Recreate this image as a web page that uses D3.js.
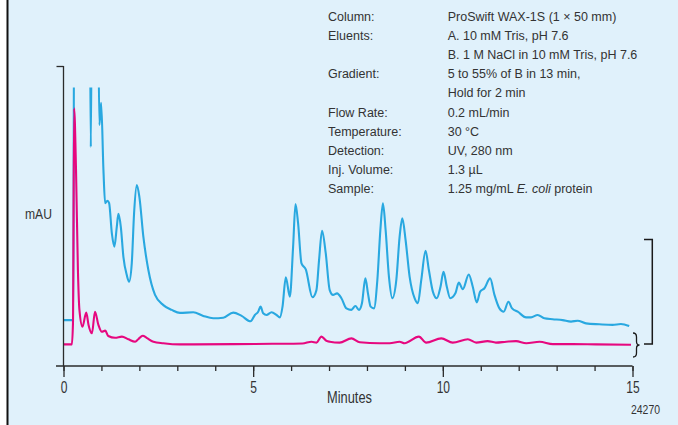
<!DOCTYPE html>
<html>
<head>
<meta charset="utf-8">
<script src="https://cdn.jsdelivr.net/npm/d3@7"></script>
<style>
  html, body { margin: 0; padding: 0; background: #fff; }
  svg { display: block; }
  .cond { font-family: "Liberation Sans", Arial, sans-serif; }
  .info { font-family: "Liberation Sans", Arial, sans-serif; font-size: 12.5px; fill: #333; }
</style>
</head>
<body>
<svg id="chart" width="678" height="425"></svg>
<script>
// Chromatogram traces: [minutes, mAU (arbitrary, offset traces)]
const blueTrace = [
  [0, 15.3], [0.24, 15.3], [0.26, 15.3], [0.28, 130], [0.5, 130], [0.69, 130], [0.72, 73],
  [0.75, 130], [0.9, 130], [0.947, 80.3], [0.992, 87.7], [1.053, 65.3], [1.097, 54.3],
  [1.158, 55.1], [1.203, 54.3], [1.274, 44.3], [1.342, 39.8], [1.405, 46.4], [1.447, 50.7],
  [1.511, 46.4], [1.579, 36.4], [1.668, 30.3], [1.729, 28.1], [1.8, 34.3], [1.861, 51],
  [1.932, 60.3], [2.0, 56.4], [2.105, 43.1], [2.237, 32], [2.413, 23.7], [2.632, 20.3],
  [2.853, 18.7], [3.071, 17.7], [3.421, 17.9], [3.684, 16.7], [3.947, 15.9], [4.211, 16.1],
  [4.474, 17.8], [4.695, 16.7], [4.932, 14.9], [5.045, 17], [5.132, 18.1], [5.195, 19.8],
  [5.263, 17.6], [5.353, 17], [5.484, 17.9], [5.616, 17], [5.703, 16.2], [5.774, 19.8],
  [5.861, 29.6], [5.966, 23.1], [6.053, 39.8], [6.116, 54], [6.184, 47.6], [6.274, 34.2],
  [6.387, 32.2], [6.563, 22.9], [6.668, 25.3], [6.737, 35.3], [6.816, 45.1], [6.913, 37.6],
  [7.018, 25.3], [7.105, 23.7], [7.211, 24.2], [7.326, 22.6], [7.458, 19.2], [7.589, 18.7],
  [7.695, 20], [7.789, 18.7], [7.868, 20.9], [7.958, 29.2], [8.026, 24.2], [8.097, 19.8],
  [8.184, 19.2], [8.274, 28.7], [8.353, 45.3], [8.421, 54.2], [8.492, 45.3], [8.579, 29.8],
  [8.668, 22.6], [8.774, 28.7], [8.861, 43.1], [8.932, 49.2], [9.018, 42], [9.124, 29.8],
  [9.255, 22.6], [9.342, 20.9], [9.432, 28.7], [9.545, 38.4], [9.632, 32], [9.737, 24.8],
  [9.842, 22.6], [9.939, 26.4], [10.018, 31.4], [10.105, 26.4], [10.195, 22.6], [10.334, 24.3],
  [10.421, 27.8], [10.526, 25.6], [10.684, 30.5], [10.789, 26.4], [10.895, 21.2], [10.984, 24.8],
  [11.097, 25.9], [11.247, 29.2], [11.361, 23.7], [11.492, 19.2], [11.605, 18.1], [11.729, 21.4],
  [11.826, 19.2], [11.974, 18.1], [12.195, 16.2], [12.326, 16.2], [12.5, 17], [12.676, 15.9],
  [12.895, 15.6], [13.158, 15.3], [13.379, 14.8], [13.553, 15.1], [13.774, 14.2], [14.124, 13.9],
  [14.474, 13.7], [14.695, 14], [14.913, 13.3]
];

const pinkTrace = [
  [0, 7.2], [0.22, 7.2], [0.25, 14.3], [0.28, 85.9], [0.33, 65.3], [0.38, 32], [0.42, 18.7],
  [0.5, 13.1], [0.6, 17.8], [0.66, 13.7], [0.75, 10.9], [0.83, 18.1], [0.92, 13.7],
  [1.01, 11.4], [1.1, 11.8], [1.18, 10], [1.36, 9.4], [1.54, 9.8], [1.71, 8.9], [1.89, 8.1],
  [1.97, 8.9], [2.09, 10.1], [2.19, 9.4], [2.37, 8.1], [2.63, 7.6], [3.07, 7.2], [4.5, 7.3],
  [5.5, 7.4], [6.3, 7.5], [6.54, 8.1], [6.67, 7.8], [6.8, 9.8], [6.93, 8.4], [7.02, 8.1],
  [7.28, 7.8], [7.59, 9.2], [7.81, 7.9], [8.33, 7.6], [8.6, 7.6], [8.86, 8.1], [8.99, 7.6],
  [9.37, 9.8], [9.56, 7.8], [9.96, 9.2], [10.26, 7.8], [10.66, 8.9], [10.88, 7.8], [11.18, 8.3],
  [11.4, 7.8], [11.67, 8.1], [11.93, 8.3], [12.2, 7.6], [12.55, 8.1], [12.9, 7.3], [13.42, 7.3],
  [14.04, 7.2], [14.96, 7.1]
];

const majorTicks = [0, 5, 10, 15];
const minorTicks = d3.range(0, 16);

const infoLabels = ["Column:", "Eluents:", "", "Gradient:", "", "Flow Rate:", "Temperature:",
  "Detection:", "Inj. Volume:", "Sample:"];
const infoValues = ["ProSwift WAX-1S (1 \u00d7 50 mm)", "A. 10 mM Tris, pH 7.6",
  "B. 1 M NaCl in 10 mM Tris, pH 7.6", "5 to 55% of B in 13 min,", "Hold for 2 min",
  "0.2 mL/min", "30 \u00b0C", "UV, 280 nm", "1.3 \u00b5L", "1.25 mg/mL |E. coli| protein"];

const svg = d3.select('#chart');
const ink = '#2b2b2b';

// squeeze a label to a condensed width (the source uses a narrow face)
function condense(sel, perChar) {
  sel.each(function () {
    const n = this.textContent.length;
    d3.select(this).attr('textLength', n * perChar).attr('lengthAdjust', 'spacingAndGlyphs');
  });
}

// background panel + left rule
svg.append('rect').attr('x', 8).attr('y', 0).attr('width', 670).attr('height', 425).attr('fill', '#e0f1fb');
svg.append('line').attr('x1', 7.5).attr('x2', 7.5).attr('y1', 0).attr('y2', 425)
  .attr('stroke', '#111').attr('stroke-width', 2);

const x = d3.scaleLinear().domain([0, 15]).range([63.5, 632.5]);
const y = d3.scaleLinear().domain([0, 100]).range([366, 66]);

// clip traces at the top of the plotting window
svg.append('clipPath').attr('id', 'plotclip')
  .append('rect').attr('x', 60).attr('y', 87.5).attr('width', 600).attr('height', 300);

const line = d3.line()
  .x((d) => x(d[0]))
  .y((d) => y(d[1]))
  .curve(d3.curveMonotoneX);

const traces = svg.append('g').attr('clip-path', 'url(#plotclip)');
traces.append('path').datum(blueTrace).attr('d', line)
  .attr('fill', 'none').attr('stroke', '#29a8e0').attr('stroke-width', 2.1).attr('stroke-linejoin', 'round');
traces.append('path').datum(pinkTrace).attr('d', line)
  .attr('fill', 'none').attr('stroke', '#e6087f').attr('stroke-width', 2.1).attr('stroke-linejoin', 'round');

// x axis: minor ticks every minute, major every 5
const gx = svg.append('g').attr('transform', `translate(0,${y(0)})`);
gx.append('g').call(d3.axisBottom(x).tickValues(minorTicks).tickSize(5).tickFormat(''))
  .call((g) => g.select('.domain').remove());
gx.append('g').attr('class', 'cond')
  .call(d3.axisBottom(x).tickValues(majorTicks).tickSize(11).tickPadding(4).tickFormat(d3.format('d')))
  .call((g) => g.select('.domain').remove())
  .call((g) => g.selectAll('text').attr('font-size', 17).attr('fill', '#333').call(condense, 6.7));
gx.selectAll('line').attr('stroke', ink).attr('stroke-width', 1.3);
gx.append('line').attr('x1', 56).attr('x2', x(15)).attr('y1', 0).attr('y2', 0)
  .attr('stroke', ink).attr('stroke-width', 1.3);

// y axis: single top tick, no labels
const gy = svg.append('g').attr('transform', `translate(${x(0)},0)`);
gy.call(d3.axisLeft(y).tickValues([100]).tickSize(7).tickFormat(''))
  .call((g) => g.select('.domain').remove());
gy.selectAll('line').attr('stroke', ink).attr('stroke-width', 1.3);
gy.append('line').attr('x1', 0).attr('x2', 0).attr('y1', y(100)).attr('y2', y(0))
  .attr('stroke', ink).attr('stroke-width', 1.3);

// axis titles
svg.append('text').attr('class', 'cond').attr('x', 38.5).attr('y', 219)
  .attr('text-anchor', 'middle').attr('font-size', 15).attr('fill', '#333').text('mAU')
  .attr('textLength', 27).attr('lengthAdjust', 'spacingAndGlyphs');
svg.append('text').attr('class', 'cond').attr('x', 349.5).attr('y', 403)
  .attr('text-anchor', 'middle').attr('font-size', 16).attr('fill', '#333').text('Minutes')
  .attr('textLength', 45).attr('lengthAdjust', 'spacingAndGlyphs');
svg.append('text').attr('class', 'cond').attr('x', 645.5).attr('y', 414)
  .attr('text-anchor', 'middle').attr('font-size', 13).attr('fill', '#333').text('24270')
  .attr('textLength', 29).attr('lengthAdjust', 'spacingAndGlyphs');

// scale bracket and brace at right
svg.append('path')
  .attr('d', 'M644,239.5 H652.3 V344 H644')
  .attr('fill', 'none').attr('stroke', '#1a1a1a').attr('stroke-width', 1.5);
svg.append('path')
  .attr('d', 'M633,333 Q636.5,333 636.5,337 V341.5 Q636.5,345 639.5,345 Q636.5,345 636.5,348.5 V353 Q636.5,357 633,357')
  .attr('fill', 'none').attr('stroke', '#1a1a1a').attr('stroke-width', 1.3);

// method conditions block
const info = svg.append('g').attr('class', 'info');
infoLabels.forEach((lab, i) => {
  const by = 20.7 + i * 19.18;
  if (lab) info.append('text').attr('x', 328).attr('y', by).text(lab);
  const t = info.append('text').attr('x', 447.7).attr('y', by);
  infoValues[i].split('|').forEach((part, j) => {
    t.append('tspan').attr('font-style', j === 1 ? 'italic' : null).text(part);
  });
});
</script>
</body>
</html>
